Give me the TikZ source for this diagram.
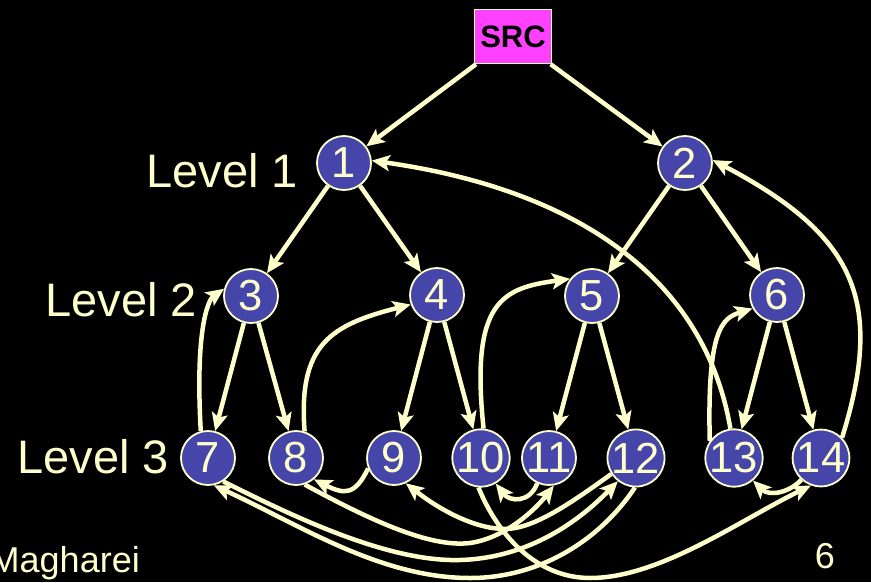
\documentclass[tikz,border=0pt]{standalone}
\usepackage{fontspec}
\setmainfont{Liberation Sans}
\usetikzlibrary{arrows.meta}
\definecolor{cream}{RGB}{255,255,204}
\definecolor{peerblue}{RGB}{70,70,170}
\definecolor{srcpink}{RGB}{255,64,255}
\pgfdeclarelayer{back}
\pgfdeclarelayer{edges}
\pgfsetlayers{back,edges,main}
\begin{document}
\begin{tikzpicture}[x=1pt,y=-1pt,
  peer/.style={circle, fill=peerblue, draw=cream, line width=1.8pt,
    minimum size=54pt, inner sep=0pt, text=cream,
    font=\fontsize{43.5}{43.5}\selectfont},
  srcbox/.style={rectangle, fill=srcpink, draw=cream, line width=1.5pt,
    minimum width=77pt, minimum height=54pt, inner sep=0pt, text=black,
    font=\bfseries\fontsize{31}{31}\selectfont},
  link/.style={draw=cream, line width=4.5pt,
    -{Stealth[length=18pt,width=16pt,inset=4pt]}},
  lvl/.style={text=cream, inner sep=0pt, anchor=base east,
    font=\fontsize{47}{47}\selectfont},
  foot/.style={text=cream, inner sep=0pt, anchor=base east,
    font=\fontsize{36}{36}\selectfont}]

\begin{pgfonlayer}{back}
  \fill[black] (0,0) rectangle (871,582);
\end{pgfonlayer}
\useasboundingbox (0,0) rectangle (871,582);

% source and peers
\node[srcbox] (src) at (513,36.5) {SRC};
\node[peer] (n1)  at (344,163) {1};
\node[peer] (n2)  at (685,163) {2};
\node[peer] (n3)  at (251,296) {3};
\node[peer] (n4)  at (437,295) {4};
\node[peer] (n5)  at (592,296) {5};
\node[peer] (n6)  at (777,295) {6};
\node[peer] (n7)  at (208,458) {7};
\node[peer] (n8)  at (296,458) {8};
\node[peer] (n9)  at (394,458) {9};
\node[peer] (n10) at (481,458) {10};
\node[peer] (n11) at (549,458) {11};
\node[peer] (n12) at (636,458) {12};
\node[peer] (n13) at (734,458) {13};
\node[peer] (n14) at (821,458) {14};

% level labels and footer
\node[lvl] (l1) at (298,187) {Level 1};
\node[lvl] (l2) at (197,316) {Level 2};
\node[lvl] (l3) at (169,473) {Level 3};
\node[foot] (auth) at (140,572) {Magharei};
\node[foot] (page) at (835,568) {6};

\begin{pgfonlayer}{edges}
  % tree edges
  \draw[link] (src) -- (n1);
  \draw[link] (src) -- (n2);
  \draw[link] (n1) -- (n3);
  \draw[link] (n1) -- (n4);
  \draw[link] (n2) -- (n5);
  \draw[link] (n2) -- (n6);
  \draw[link] (n3) -- (n7);
  \draw[link] (n3) -- (n8);
  \draw[link] (n4) -- (n9);
  \draw[link] (n4) -- (n10);
  \draw[link] (n5) -- (n11);
  \draw[link] (n5) -- (n12);
  \draw[link] (n6) -- (n13);
  \draw[link] (n6) -- (n14);

  % upward links
  \draw[link] (n7.105) .. controls (195,330) and (208,300) .. (n3.165);
  \draw[link] (n8.72) .. controls (298,345) and (330,325) .. (n4.200);
  \draw[link] (n10.85) .. controls (470,300) and (503,288) .. (n5.142);
  \draw[link] (n13.145) .. controls (707,330) and (722,318) .. (n6.209);
  \draw[link] (n13.97) .. controls (705,280) and (580,190) .. (n1.5);
  \draw[link] (n14.44) .. controls (885,300) and (855,235) .. (n2.6);

  % links among level 3
  \draw[link] (n9.202) .. controls (355,495) and (345,495) .. (n8.310);
  \draw[link] (n11.245) .. controls (530,503) and (510,502) .. (n10.300);
  \draw[link] (n14.228) .. controls (790,492) and (770,497) .. (n13.310);
  \draw[link] (n12.213) .. controls (575,500) and (535,529) .. (505,529)
                        .. controls (475,529) and (440,510) .. (n9.295);
  \draw[link] (n8.288) .. controls (370,520) and (430,548) .. (470,543)
                       .. controls (505,538) and (535,510) .. (n11.280);
  \draw[link] (n7.303) .. controls (300,520) and (390,562) .. (460,560)
                       .. controls (530,558) and (580,520) .. (n12.232);
  \draw[link] (n12.268) .. controls (600,540) and (540,578) .. (470,578)
                        .. controls (380,578) and (300,525) .. (n7.282);
  \draw[link] (n10.265) .. controls (500,540) and (540,578) .. (590,578)
                        .. controls (660,578) and (740,520) .. (n14.250);
\end{pgfonlayer}
\end{tikzpicture}
\end{document}
